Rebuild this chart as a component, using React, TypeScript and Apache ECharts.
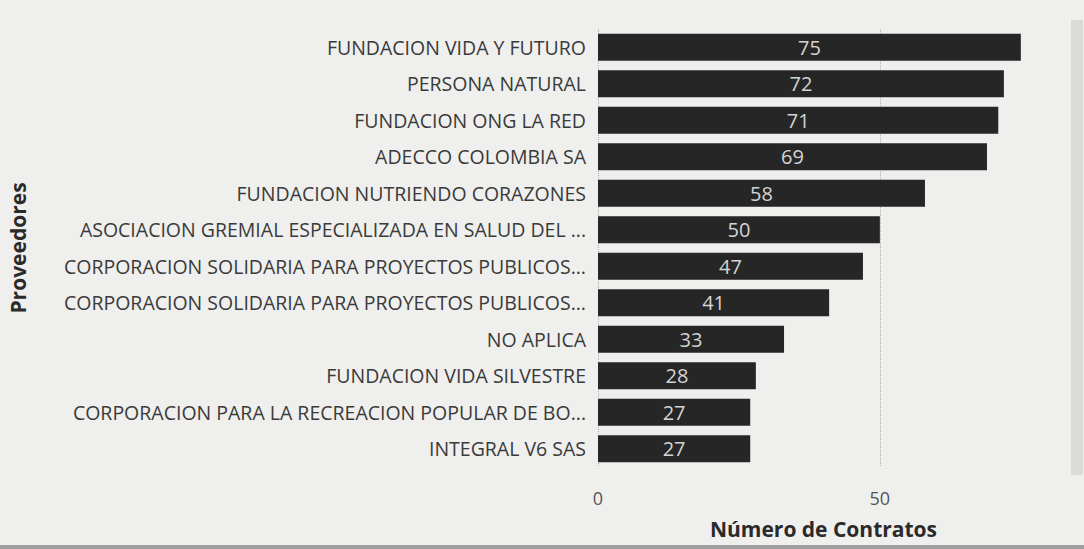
import React, { useEffect, useRef } from "react";
import * as echarts from "echarts";

const categories = [
  "FUNDACION VIDA Y FUTURO",
  "PERSONA NATURAL",
  "FUNDACION ONG LA RED",
  "ADECCO COLOMBIA SA",
  "FUNDACION NUTRIENDO CORAZONES",
  "ASOCIACION GREMIAL ESPECIALIZADA EN SALUD DEL ...",
  "CORPORACION SOLIDARIA PARA PROYECTOS PUBLICOS...",
  "CORPORACION SOLIDARIA PARA PROYECTOS PUBLICOS...",
  "NO APLICA",
  "FUNDACION VIDA SILVESTRE",
  "CORPORACION PARA LA RECREACION POPULAR DE BO...",
  "INTEGRAL V6 SAS",
];
const contratos = [75, 72, 71, 69, 58, 50, 47, 41, 33, 28, 27, 27];
const xTicks = [0, 50];

const FONT = "'Open Sans', 'Noto Sans', sans-serif";

export default function App() {
  const ref = useRef<HTMLDivElement>(null);
  useEffect(() => {
    if (!ref.current) return;
    const chart = echarts.init(ref.current, undefined, { renderer: "svg" });
    chart.setOption({
      animation: false,
      backgroundColor: "#efefed",
      grid: { left: 598, top: 29, width: 451, height: 438, containLabel: false },
      xAxis: {
        type: "value",
        min: 0,
        max: 80,
        interval: 50,
        name: "Número de Contratos",
        nameLocation: "middle",
        nameGap: 51,
        nameTextStyle: { fontFamily: FONT, fontSize: 21, fontWeight: "bold", color: "#2a2a2a" },
        axisLine: { show: false },
        axisTick: { show: false },
        axisLabel: {
          margin: 22,
          fontFamily: FONT,
          fontSize: 18,
          color: "#555",
          showMaxLabel: false,
          formatter: (v: number) => (xTicks.includes(v) ? String(v) : ""),
        },
        splitLine: {
          show: true,
          showMaxLine: false,
          lineStyle: { type: "dotted", color: "#b0b0b0", width: 1 },
        },
      },
      yAxis: {
        type: "category",
        inverse: true,
        data: categories,
        name: "Proveedores",
        nameLocation: "middle",
        nameRotate: 90,
        nameGap: 570,
        nameTextStyle: { fontFamily: FONT, fontSize: 21, fontWeight: "bold", color: "#2a2a2a" },
        axisLine: { show: false },
        axisTick: { show: false },
        axisLabel: { margin: 12, fontFamily: FONT, fontSize: 19.5, color: "#3a3a3a" },
      },
      series: [
        {
          type: "bar",
          data: contratos,
          barWidth: 27,
          itemStyle: { color: "#262626" },
          label: {
            show: true,
            position: "inside",
            fontFamily: FONT,
            fontSize: 20,
            color: "#d4d4d4",
          },
        },
      ],
      graphic: [
        { type: "rect", left: 1071, top: 20, shape: { width: 12, height: 455 }, style: { fill: "#dadad8" } },
        { type: "rect", left: 0, top: 545, shape: { width: 1084, height: 4 }, style: { fill: "#a0a0a0" } },
      ],
    });
    return () => chart.dispose();
  }, []);
  return (
    <div
      ref={ref}
      style={{ position: "absolute", left: 0, top: 0, width: 1084, height: 549 }}
    />
  );
}
